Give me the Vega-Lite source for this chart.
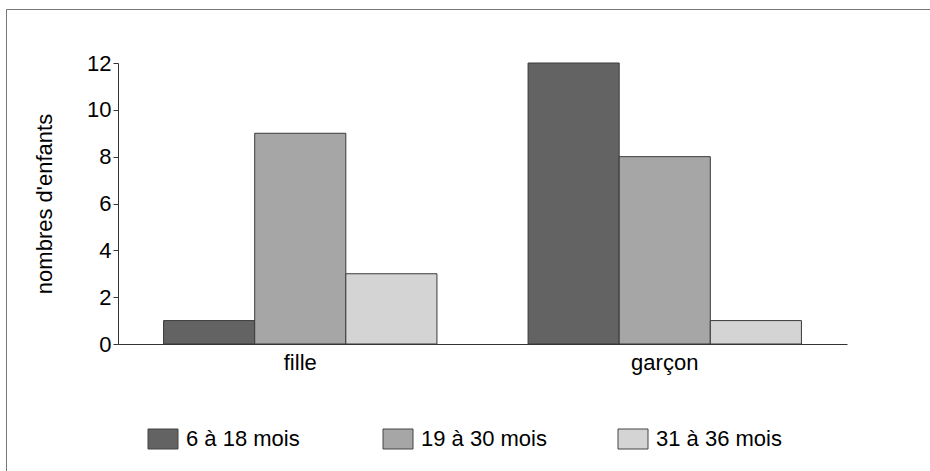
{
  "$schema": "https://vega.github.io/schema/vega-lite/v6.json",
  "width": 930,
  "height": 470,
  "autosize": "none",
  "padding": {"left": 6, "top": 9, "right": 0, "bottom": 0},
  "background": "white",
  "config": {"view": {"stroke": "#777", "strokeWidth": 1}, "font": "Liberation Sans"},
  "data": {"values": [
    {"sexe": "fille", "age": "6 à 18 mois", "n": 1},
    {"sexe": "fille", "age": "19 à 30 mois", "n": 9},
    {"sexe": "fille", "age": "31 à 36 mois", "n": 3},
    {"sexe": "garçon", "age": "6 à 18 mois", "n": 12},
    {"sexe": "garçon", "age": "19 à 30 mois", "n": 8},
    {"sexe": "garçon", "age": "31 à 36 mois", "n": 1}
  ]},
  "mark": {"type": "bar", "stroke": "#3a3a3a", "strokeWidth": 1},
  "encoding": {
    "x": {
      "field": "sexe", "type": "nominal", "sort": ["fille", "garçon"],
      "scale": {"range": [112, 841], "paddingInner": 0.25, "paddingOuter": 0.125},
      "axis": {"title": null, "orient": "bottom", "offset": -135, "labelAngle": 0, "ticks": false,
               "labelFontSize": 22, "labelColor": "black", "labelPadding": 8, "domainColor": "#333", "grid": false}
    },
    "xOffset": {"field": "age", "type": "nominal", "sort": ["6 à 18 mois", "19 à 30 mois", "31 à 36 mois"]},
    "y": {
      "field": "n", "type": "quantitative",
      "scale": {"domain": [0, 12], "range": [335, 54], "nice": false},
      "axis": {"title": "nombres d'enfants", "offset": -112, "values": [0, 2, 4, 6, 8, 10, 12],
               "tickSize": 5, "tickColor": "#333", "domainColor": "#333", "labelFontSize": 22,
               "titleFontSize": 22, "titleFontWeight": "normal", "titleColor": "black", "labelColor": "black",
               "titlePadding": 30, "grid": false, "labelPadding": 2}
    },
    "color": {
      "field": "age", "type": "nominal", "sort": ["6 à 18 mois", "19 à 30 mois", "31 à 36 mois"],
      "scale": {"range": ["#636363", "#a6a6a6", "#d4d4d4"]},
      "legend": {"title": null, "orient": "none", "legendX": 146, "legendY": 419, "direction": "horizontal",
                 "columns": 3, "gridAlign": "all", "columnPadding": 69, "symbolType": "M-1.5,-1h3v2h-3z",
                 "symbolSize": 400, "symbolStrokeColor": "#444", "symbolStrokeWidth": 1, "labelFontSize": 22,
                 "labelOffset": 12, "labelColor": "black", "padding": 0, "symbolOpacity": 1}
    }
  }
}
